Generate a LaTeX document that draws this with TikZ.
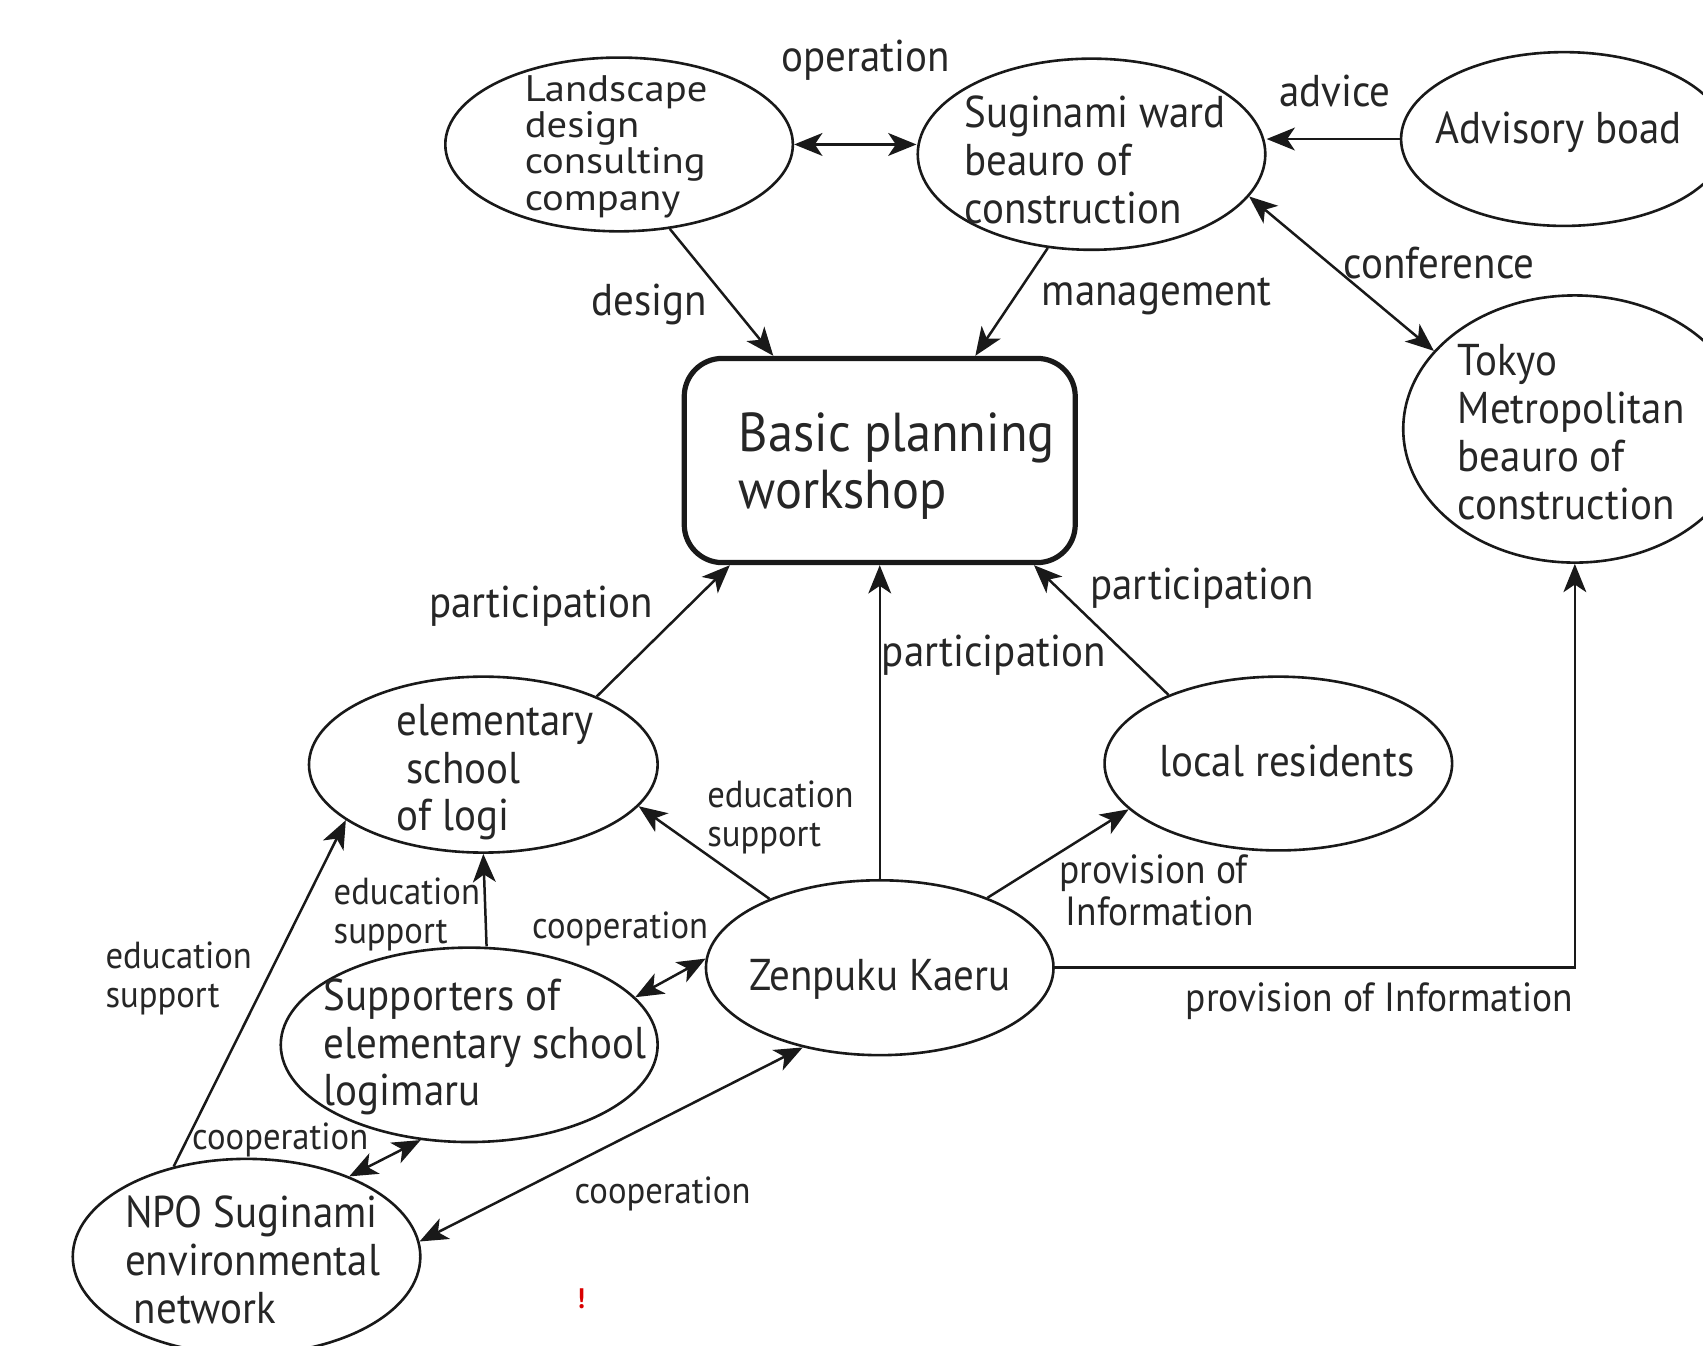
\documentclass[tikz,border=0pt]{standalone}
\usepackage{fontspec}
\setmainfont{PT Sans}[FakeStretch=0.92]
\newfontfamily\landfam{PT Sans}[FakeStretch=1.1]
\usetikzlibrary{shapes.geometric,arrows.meta}
\newcommand\landfont{\landfam\fontsize{34}{33.3}\selectfont\lineskiplimit=-100pt\relax}
\begin{document}
\begin{tikzpicture}[x=1pt,y=-1pt,
  ell/.style={draw=black!90, ellipse, line width=2.4pt, inner sep=0pt},
  con/.style={draw=black!90, line width=2.3pt},
  tip/.tip={Stealth[length=26pt,width=21pt,inset=7pt]},
  arr/.style={con, -tip},
  darr/.style={con, tip-tip},
  etxt/.style={text=black!85, font=\fontsize{41}{44}\selectfont, align=left, inner sep=0pt},
  ltxt/.style={text=black!85, font=\landfont, align=left, inner sep=0pt},
  btxt/.style={text=black!85, font=\fontsize{50.5}{53}\selectfont, align=left, inner sep=0pt},
  lbl/.style={text=black!85, font=\fontsize{41}{42}\selectfont, inner sep=0pt},
  plbl/.style={text=black!85, font=\fontsize{37.5}{39}\selectfont, inner sep=0pt, align=left},
  slbl/.style={text=black!85, font=\fontsize{34.7}{36}\selectfont, inner sep=0pt, align=left},
]
\useasboundingbox (0,0) rectangle (1568,1239);
\clip (0,0) rectangle (1568,1239);

% ellipses and box
\node[ell, minimum width=320pt, minimum height=160pt] (land) at (570,133) {};
\node[ell, minimum width=320pt, minimum height=176pt] (sug) at (1005,142) {};
\node[ell, minimum width=300pt, minimum height=160pt] (adv) at (1440,128) {};
\node[ell, minimum width=316pt, minimum height=246pt] (tok) at (1450,395) {};
\node[draw=black!90, rounded corners=35pt, line width=4.8pt, minimum width=360pt, minimum height=188pt] (basic) at (810,424) {};
\node[ell, minimum width=321pt, minimum height=162pt] (ele) at (445,704) {};
\node[ell, minimum width=320pt, minimum height=160pt] (loc) at (1177,703) {};
\node[ell, minimum width=320pt, minimum height=161pt] (zen) at (810,891) {};
\node[ell, minimum width=347pt, minimum height=179pt] (sup) at (432,962) {};
\node[ell, minimum width=320pt, minimum height=180pt] (npo) at (227,1157) {};

% node texts
\node[ltxt, anchor=west] (landt) at (483,135) {Landscape\\design\\consulting\\company};
\node[etxt, anchor=west] (sugt) at (888,147) {Suginami ward\\beauro of\\construction};
\node[etxt] (advt) at (1435,122) {Advisory boad};
\node[etxt, anchor=west] (tokt) at (1342,398) {Tokyo\\Metropolitan\\beauro of\\construction};
\node[btxt, anchor=west] (basict) at (680,429) {Basic planning\\workshop};
\node[etxt, anchor=west] (elet) at (365,711) {elementary\\\hspace*{9pt}school\\of logi};
\node[etxt] (loct) at (1185,701) {local residents};
\node[etxt] (zent) at (810,902) {Zenpuku Kaeru};
\node[etxt, anchor=west] (supt) at (298,964) {Supporters of\\elementary school\\logimaru};
\node[etxt, anchor=west] (npot) at (115,1160) {NPO Suginami\\environmental\\\hspace*{8pt}network};

% connectors
\draw[darr] (land.east) -- (land.east -| sug.west);
\draw[arr] (adv.west) -- (adv.west -| sug.east);
\draw[darr] (sug.-15) -- (tok.151);
\draw[arr] (land.-59) -- ([xshift=-98pt]basic.north);
\draw[arr] (sug.-115) -- ([xshift=88pt]basic.north);
\draw[arr] (ele.31) -- ([xshift=-138pt]basic.south);
\draw[arr] (zen.north) -- (basic.south);
\draw[arr] (loc.148) -- ([xshift=142pt]basic.south);
\draw[arr] (zen.148.5) -- (ele.-15);
\draw[arr] (zen.33) -- (loc.-163);
\draw[arr] (zen.east) -| (tok.south);
\draw[arr] ([xshift=16pt]sup.north) -- (ele.south);
\draw[arr] (npo.129) -- (ele.-158);
\draw[darr] (sup.16) -- (zen.177);
\draw[darr] (npo.38) -- (sup.-117);
\draw[darr] (npo.5) -- (zen.-134.6);

% connector labels
\node[lbl] (lop) at (797,55) {operation};
\node[lbl] (lad) at (1229,84) {advice};
\node[lbl] (lcf) at (1325,242) {conference};
\node[lbl] (lds) at (598,280) {design};
\node[lbl] (lmg) at (1065,273) {management};
\node[lbl] (lp1) at (498,558) {participation};
\node[lbl] (lp2) at (915,603) {participation};
\node[lbl] (lp3) at (1107,542) {participation};
\node[plbl] (lpi2) at (1270,922) {provision of Information};
\node[slbl, anchor=west] (le1) at (651,753) {education\\support};
\node[plbl, anchor=west] (lpi) at (975,820) {provision of\\\hspace*{6pt}Information};
\node[slbl, anchor=west] (le2) at (307,842) {education\\support};
\node[slbl] (lc1) at (571,855) {cooperation};
\node[slbl, anchor=west] (le3) at (97,901) {education\\support};
\node[slbl] (lc2) at (258,1050) {cooperation};
\node[slbl] (lc3) at (610,1099) {cooperation};

\node[text=red!85!black, font=\fontsize{26}{26}\selectfont\bfseries, inner sep=0pt] (warn) at (535,1196) {!};
\end{tikzpicture}
\end{document}
